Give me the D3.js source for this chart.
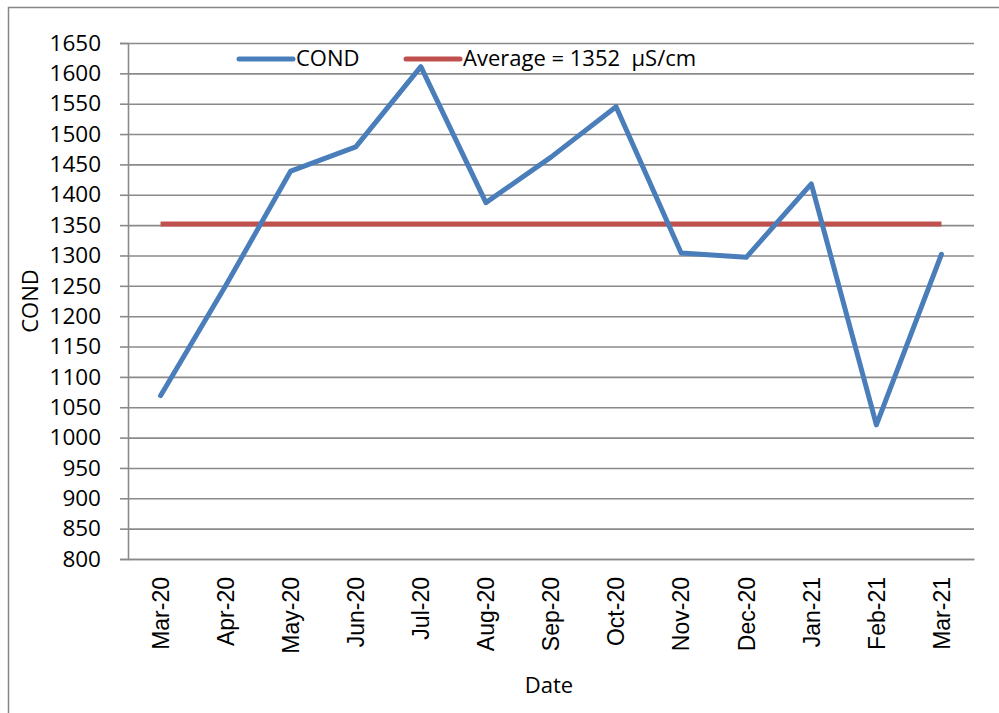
<!DOCTYPE html>
<html>
<head>
<meta charset="utf-8">
<script src="https://cdn.jsdelivr.net/npm/d3@7"></script>
<style>
    body { margin: 0; background: #fff; }
    .grid line { stroke: #8a8a8a; stroke-width: 1.6px; }
    .grid path { display: none; }
    .tick text { fill: #000; }
    .lbl { font-family: 'Open Sans', Lato, sans-serif; font-size: 22px; white-space: pre; }
</style>
</head>
<body>
<div id="chart"></div>
<script>
var months = ["Mar-20", "Apr-20", "May-20", "Jun-20", "Jul-20", "Aug-20", "Sep-20",
    "Oct-20", "Nov-20", "Dec-20", "Jan-21", "Feb-21", "Mar-21"];
var cond = [1069, 1250, 1439, 1479, 1611, 1387, 1462, 1545, 1304, 1297, 1418, 1021, 1302];
var average = 1352;
var yTicks = d3.range(800, 1651, 50);

var margin = {top: 43, right: 25, bottom: 154, left: 128},
    width = 999 - margin.left - margin.right,
    height = 713 - margin.top - margin.bottom;

var svg = d3.select("#chart").append("svg")
    .attr("width", 999)
    .attr("height", 713);

// outer chart border
svg.append("rect")
    .attr("x", 8.5)
    .attr("y", 7.5)
    .attr("width", 1000)
    .attr("height", 720)
    .style("fill", "none")
    .style("stroke", "#868686")
    .style("stroke-width", 1.5);

var g = svg.append("g")
    .attr("transform", "translate(" + margin.left + "," + margin.top + ")");

var x = d3.scaleBand().domain(months).range([0, width]).padding(0);
var y = d3.scaleLinear().domain([800, 1650]).range([height, 0]);

function cx(d) {
    return x(d) + x.bandwidth() / 2;
}

// horizontal gridlines + y ticks
g.append("g")
    .attr("class", "grid")
    .call(d3.axisLeft(y)
        .tickValues(yTicks)
        .tickSize(-width)
        .tickFormat("")
    );

var yAxis = g.append("g")
    .call(d3.axisLeft(y)
        .tickValues(yTicks)
        .tickSize(8)
        .tickPadding(19)
        .tickFormat(d3.format("d"))
    );
yAxis.select(".domain").style("stroke", "#8a8a8a").style("stroke-width", 1.6);
yAxis.selectAll(".tick line").style("stroke", "#8a8a8a").style("stroke-width", 1.6);
yAxis.selectAll("text")
    .style("font-family", "'Open Sans', Lato, sans-serif")
    .style("font-size", "22.5px");

// x axis
var xAxis = g.append("g")
    .attr("transform", "translate(0," + height + ")")
    .call(d3.axisBottom(x).tickSize(0).tickPadding(0));
xAxis.select(".domain").style("stroke", "#8a8a8a").style("stroke-width", 1.6);
xAxis.selectAll("text")
    .style("font-family", "'Liberation Sans', Arial, sans-serif")
    .style("font-size", "23px")
    .style("text-anchor", "end")
    .attr("transform", "rotate(-90)")
    .attr("x", -18)
    .attr("y", 0)
    .attr("dy", "0.36em");

// average line
g.append("line")
    .attr("x1", cx(months[0]))
    .attr("x2", cx(months[months.length - 1]))
    .attr("y1", y(average))
    .attr("y2", y(average))
    .style("stroke", "#C0504D")
    .style("stroke-width", 5);

// COND line
var line = d3.line()
    .x(function (d, i) {
        return cx(months[i]);
    })
    .y(function (d) {
        return y(d);
    });

g.append("path")
    .datum(cond)
    .attr("d", line)
    .style("fill", "none")
    .style("stroke", "#4A7EBB")
    .style("stroke-width", 5)
    .style("stroke-linejoin", "round")
    .style("stroke-linecap", "round");

// axis titles
svg.append("text")
    .attr("class", "lbl")
    .attr("transform", "translate(38," + (margin.top + y(1225)) + ") rotate(-90)")
    .style("text-anchor", "middle")
    .text("COND");

svg.append("text")
    .attr("class", "lbl")
    .attr("x", 549)
    .attr("y", 693)
    .style("text-anchor", "middle")
    .text("Date");

// legend
function initLegend(x0, color, text) {
    svg.append("line")
        .attr("x1", x0)
        .attr("x2", x0 + 54)
        .attr("y1", 59)
        .attr("y2", 59)
        .style("stroke", color)
        .style("stroke-width", 5)
        .style("stroke-linecap", "round");
    svg.append("text")
        .attr("class", "lbl")
        .attr("x", x0 + 57)
        .attr("y", 66)
        .text(text);
}

initLegend(239, "#4A7EBB", "COND");
initLegend(406, "#C0504D", "Average = 1352  \u00B5S/cm");
</script>
</body>
</html>
